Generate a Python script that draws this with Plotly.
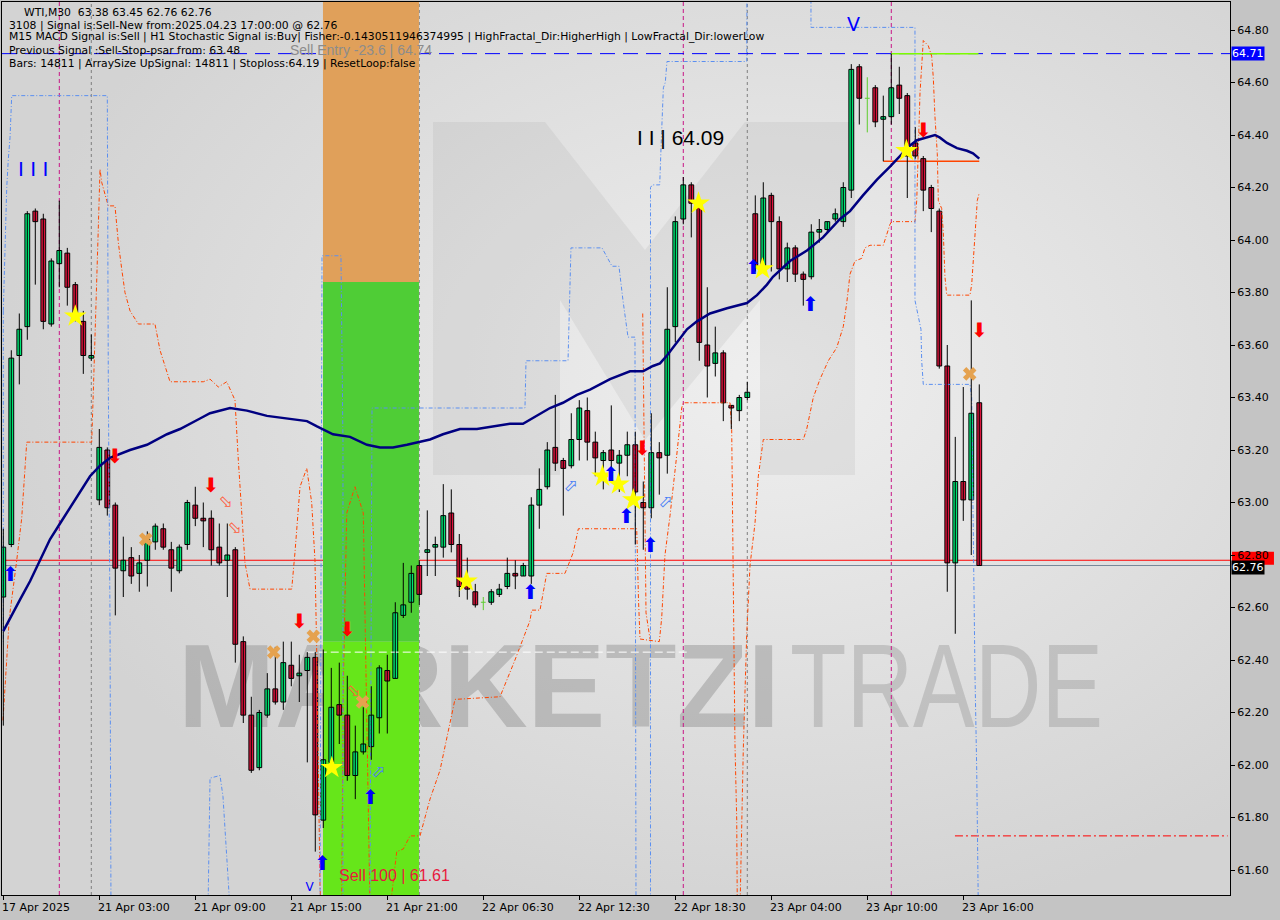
import base64
import plotly.graph_objects as go

# ---------------- data ----------------
tick_idx = [0, 12, 24, 36, 48, 60, 72, 84, 96, 108, 120]
tick_labels = ["17 Apr 2025", "21 Apr 03:00", "21 Apr 09:00", "21 Apr 15:00", "21 Apr 21:00",
               "22 Apr 06:30", "22 Apr 12:30", "22 Apr 18:30", "23 Apr 04:00", "23 Apr 10:00",
               "23 Apr 16:00"]
price_ticks = [61.60, 61.80, 62.00, 62.20, 62.40, 62.60, 62.80, 63.00, 63.20, 63.40,
               63.60, 63.80, 64.00, 64.20, 64.40, 64.60, 64.80]

opens = [62.64, 62.84, 63.56, 63.67, 64.11, 64.08, 63.68, 63.91, 63.95, 63.83,
         63.69, 63.55, 63.01, 63.20, 62.99, 62.74, 62.79, 62.73, 62.78, 62.85,
         62.90, 62.82, 62.74, 62.84, 62.99, 62.94, 62.94, 62.83, 62.78, 62.82,
         62.47, 62.19, 61.99, 62.19, 62.29, 62.24, 62.38, 62.34, 62.36, 62.41,
         61.79, 62.01, 62.23, 62.19, 61.96, 62.05, 62.07, 62.18, 62.36, 62.33,
         62.57, 62.62, 62.76, 62.81, 62.83, 62.83, 62.96, 62.84, 62.70, 62.66,
         62.62, 62.62, 62.65, 62.68, 62.73, 62.72, 62.72, 62.99, 63.06, 63.21,
         63.16, 63.14, 63.24, 63.35, 63.23, 63.16, 63.20, 63.15, 63.18, 63.22,
         63.00, 62.98, 63.19, 63.18, 63.67, 64.08, 64.21, 64.14, 63.60, 63.53,
         63.57, 63.37, 63.35, 63.40, 64.10, 63.90, 64.17, 64.07, 63.89, 63.97,
         63.87, 63.86, 64.03, 64.04, 64.08, 64.07, 64.19, 64.66, 64.54, 64.58,
         64.46, 64.47, 64.59, 64.55, 64.37, 64.31, 64.20, 64.11, 63.52, 62.77,
         63.08, 63.01, 63.38]
highs = [62.90, 63.58, 63.72, 64.11, 64.12, 64.10, 63.93, 64.15, 63.97, 63.84,
         63.73, 63.64, 63.28, 63.21, 63.00, 62.87, 62.83, 62.80, 62.89, 62.92,
         62.92, 62.85, 62.84, 63.01, 63.06, 63.00, 62.97, 62.92, 62.92, 62.83,
         62.49, 62.26, 62.21, 62.35, 62.45, 62.47, 62.47, 62.42, 62.43, 62.43,
         62.44, 62.37, 62.39, 62.34, 62.15, 62.22, 62.30, 62.38, 62.42, 62.62,
         62.77, 62.76, 62.78, 62.97, 62.87, 63.07, 63.05, 62.88, 62.79, 62.69,
         62.64, 62.67, 62.69, 62.79, 62.78, 62.77, 63.02, 63.13, 63.23, 63.41,
         63.17, 63.34, 63.39, 63.40, 63.27, 63.20, 63.37, 63.20, 63.27, 63.27,
         63.08, 63.34, 63.23, 63.82, 64.09, 64.24, 64.22, 64.15, 63.82, 63.67,
         63.58, 63.37, 63.41, 63.46, 64.17, 64.22, 64.18, 64.09, 63.99, 63.98,
         63.88, 64.06, 64.08, 64.07, 64.12, 64.22, 64.67, 64.67, 64.62, 64.59,
         64.55, 64.71, 64.66, 64.56, 64.43, 64.32, 64.21, 64.12, 63.60, 63.25,
         63.44, 63.77, 63.45]
lows = [62.15, 62.83, 63.45, 63.62, 63.83, 63.66, 63.67, 63.82, 63.75, 63.69,
        63.49, 63.54, 62.99, 62.95, 62.57, 62.64, 62.69, 62.66, 62.68, 62.82,
        62.82, 62.66, 62.73, 62.82, 62.91, 62.83, 62.76, 62.76, 62.64, 62.39,
        62.16, 61.97, 61.98, 62.18, 62.23, 62.21, 62.30, 62.24, 62.01, 61.67,
        61.76, 62.00, 62.08, 61.94, 61.87, 62.04, 62.02, 62.12, 62.12, 62.33,
        62.56, 62.58, 62.61, 62.72, 62.72, 62.79, 62.81, 62.64, 62.63, 62.60,
        62.59, 62.61, 62.64, 62.67, 62.67, 62.72, 62.69, 62.90, 63.05, 63.12,
        62.95, 63.13, 63.16, 63.16, 63.10, 63.05, 63.08, 63.04, 63.10, 62.84,
        62.82, 62.94, 63.03, 63.11, 63.61, 64.06, 64.01, 63.54, 63.40, 63.48,
        63.31, 63.28, 63.31, 63.39, 63.88, 63.88, 63.88, 63.85, 63.84, 63.84,
        63.75, 63.85, 63.99, 64.03, 64.07, 64.05, 64.16, 64.44, 64.41, 64.43,
        64.30, 64.44, 64.48, 64.16, 64.31, 64.11, 64.03, 63.51, 62.66, 62.50,
        62.93, 62.80, 62.76]
closes = [62.83, 63.55, 63.66, 64.10, 64.07, 63.69, 63.92, 63.96, 63.82, 63.71,
          63.56, 63.56, 63.21, 62.98, 62.75, 62.78, 62.72, 62.77, 62.86, 62.91,
          62.83, 62.75, 62.83, 63.00, 62.94, 62.93, 62.82, 62.77, 62.80, 62.46,
          62.19, 61.98, 62.20, 62.29, 62.24, 62.39, 62.33, 62.35, 62.41, 61.81,
          62.02, 62.22, 62.19, 61.96, 62.05, 62.08, 62.19, 62.37, 62.32, 62.58,
          62.61, 62.73, 62.65, 62.82, 62.84, 62.95, 62.84, 62.68, 62.67, 62.61,
          62.62, 62.66, 62.67, 62.73, 62.72, 62.76, 62.99, 63.05, 63.20, 63.15,
          63.13, 63.24, 63.36, 63.23, 63.17, 63.19, 63.16, 63.18, 63.22, 63.04,
          62.98, 63.19, 63.17, 63.66, 64.07, 64.21, 64.14, 63.61, 63.52, 63.57,
          63.38, 63.36, 63.40, 63.42, 63.90, 64.16, 64.07, 63.89, 63.97, 63.87,
          63.85, 64.03, 64.04, 64.07, 64.10, 64.20, 64.65, 64.54, 64.54, 64.45,
          64.47, 64.58, 64.54, 64.32, 64.32, 64.19, 64.12, 63.52, 62.77, 63.08,
          63.01, 63.34, 62.76]

# moving average (at these bar positions)
ma_idx = [0, 0.84, 2.09, 3.34, 4.59, 5.84, 7.09, 8.34, 9.59, 10.84, 12.09, 13.34, 15.84,
          17.96, 20.46, 22.09, 24.59, 25.84, 28.34, 30.46, 32.96, 35.46, 37.96, 39.21,
          41.21, 43.34, 45.46, 47.09, 48.71, 50.46, 52.09, 53.34, 54.96, 57.09, 59.21,
          61.21, 63.34, 64.96, 66.71, 68.34, 69.96, 71.71, 73.34, 75.84, 78.34, 79.96,
          81.21, 82.09, 82.96, 84.21, 85.46, 86.71, 88.34, 90.46, 92.96, 94.21, 95.46,
          96.21, 98.34, 100.46, 102.46, 104.59, 105.84, 107.46, 109.21, 110.84, 112.09,
          113.34, 114.21, 115.46, 116.46, 117.09, 117.96, 119.21, 120.46, 121.21, 122.0]
ma_val = [62.51, 62.56, 62.63, 62.70, 62.78, 62.86, 62.92, 62.98, 63.04, 63.10, 63.14,
          63.17, 63.20, 63.22, 63.26, 63.28, 63.32, 63.34, 63.36, 63.35, 63.33, 63.32,
          63.31, 63.29, 63.26, 63.25, 63.22, 63.21, 63.21, 63.22, 63.23, 63.24, 63.26,
          63.28, 63.28, 63.29, 63.30, 63.30, 63.33, 63.36, 63.38, 63.41, 63.43, 63.47,
          63.50, 63.50, 63.52, 63.53, 63.56, 63.61, 63.66, 63.69, 63.72, 63.74, 63.76,
          63.79, 63.83, 63.86, 63.92, 63.96, 64.01, 64.08, 64.11, 64.17, 64.23, 64.28,
          64.32, 64.36, 64.38, 64.39, 64.40, 64.39, 64.37, 64.35, 64.34, 64.33, 64.31]

# orange stop line pieces
o1_x = [-0.04, 0.75, 1.68, 2.30, 2.93, 11.05, 11.25, 11.68, 11.88, 12.09, 12.30, 12.93,
        13.13, 13.96, 14.38, 14.80, 15.21, 15.84, 16.88, 18.96, 19.59, 20.84, 25.0, 25.84,
        26.88, 27.93, 28.96, 29.38, 29.59, 30.21, 30.84, 36.05, 36.46, 37.09, 37.93, 38.55,
        38.96, 39.18, 39.59, 39.71]
o1_y = [62.17, 62.56, 62.78, 62.94, 63.23, 63.23, 63.42, 63.81, 64.05, 64.27, 64.22, 64.15,
        64.13, 64.13, 63.99, 63.89, 63.80, 63.73, 63.68, 63.68, 63.58, 63.46, 63.46, 63.47,
        63.44, 63.46, 63.39, 63.16, 63.07, 62.77, 62.67, 62.67, 62.81, 63.06, 63.13, 63.00,
        62.78, 62.43, 61.54, 61.45]
o2_x = [42.30, 42.50, 42.93, 43.96, 45.0, 45.21, 45.84]
o2_y = [61.45, 62.30, 62.96, 63.06, 62.96, 62.55, 61.45]
o3_x = [48.34, 49.18, 50.0, 50.84, 52.09, 53.34, 54.59, 56.46, 62.09, 63.96, 65.84, 66.05,
        67.09, 67.93, 70.21, 71.25, 71.88, 79.18, 79.40, 79.59, 82.0, 82.30, 82.71, 83.34,
        84.18, 84.80, 85.0, 90.84, 91.05, 91.25, 91.46, 91.68, 91.75]
o3_y = [61.45, 61.67, 61.68, 61.73, 61.73, 61.87, 61.98, 62.25, 62.26, 62.40, 62.55, 62.59,
        62.59, 62.73, 62.73, 62.81, 62.90, 62.90, 62.63, 62.48, 62.47, 62.56, 62.80, 62.95,
        63.18, 63.36, 63.38, 63.38, 63.28, 62.80, 62.08, 61.79, 61.45]
o4_x = [79.93, 80.09, 80.34, 80.84]
o4_y = [63.72, 63.20, 62.58, 62.48]
o5_x = [92.09, 92.30, 92.50, 92.93, 93.34, 93.96, 94.38, 95.0, 100.0, 100.43, 101.25, 102.09,
        103.13, 104.18, 105.0, 105.43, 105.84, 106.46, 107.30, 107.71, 108.34, 110.0, 110.21,
        110.84, 111.05, 113.96, 114.18, 114.38, 114.59, 115.0, 115.63, 116.05, 116.25, 116.46,
        116.75, 116.88, 117.30, 117.50, 117.71, 117.93, 120.84, 121.05, 121.46, 121.75, 122.0]
o5_y = [61.45, 61.76, 62.06, 62.50, 62.76, 62.92, 63.10, 63.24, 63.24, 63.28, 63.40, 63.47,
        63.54, 63.59, 63.67, 63.76, 63.87, 63.92, 63.93, 63.97, 63.98, 63.98, 64.00, 64.06,
        64.07, 64.07, 64.15, 64.35, 64.56, 64.76, 64.74, 64.70, 64.62, 64.47, 64.33, 64.15,
        64.12, 64.03, 63.86, 63.79, 63.79, 63.83, 64.03, 64.15, 64.18]

# blue channel pieces
b0_x = [0.0, 0.0]
b0_y = [63.73, 62.46]
b1_x = [0.0, 0.21, 0.43, 0.63, 0.84, 1.05, 13.0, 13.13, 13.34, 13.46]
b1_y = [63.73, 63.97, 64.20, 64.31, 64.39, 64.55, 64.55, 63.43, 62.55, 61.45]
b2_x = [25.59, 25.84, 27.09, 27.46, 28.34]
b2_y = [61.45, 61.95, 61.96, 61.88, 61.45]
b3_x = [39.59, 39.71, 39.84, 42.21, 42.46, 42.46]
b3_y = [61.45, 63.16, 63.94, 63.94, 63.23, 61.45]
b4_x = [45.84, 46.09, 65.21, 65.34, 70.59, 70.96, 74.84, 75.34, 76.09, 76.96, 77.21, 77.46,
        78.09, 78.96, 79.09]
b4_y = [61.45, 63.36, 63.36, 63.54, 63.54, 63.97, 63.97, 63.94, 63.90, 63.90, 63.82, 63.77,
        63.63, 63.63, 61.45]
b5_x = [80.9, 80.9, 81.13, 82.05, 82.29, 82.51, 82.75, 82.96, 92.93, 92.96]
b5_y = [61.45, 64.20, 64.21, 64.21, 64.41, 64.58, 64.60, 64.68, 64.68, 64.95]
b6_x = [100.96, 100.96, 113.96, 113.96, 114.71, 114.80, 115.0, 120.84, 121.05, 121.25,
        121.46, 121.68, 121.88]
b6_y = [64.95, 64.81, 64.81, 63.77, 63.66, 63.54, 63.45, 63.45, 63.40, 62.80, 62.35,
        61.98, 61.45]
white_x = [37.93, 85.59]
white_y = [62.43, 62.43]

# signal markers
star_idx = [9, 41.06, 57.9, 74.9, 76.9, 78.75, 86.9, 94.9, 112.9]
star_price = [63.71, 61.99, 62.70, 63.10, 63.07, 63.01, 64.14, 63.89, 64.34]
sell_arrow_idx = [13.96, 25.96, 37.0, 43.0, 79.9, 115.0, 122.0]
sell_arrow_price = [63.17, 63.06, 62.54, 62.51, 63.20, 64.41, 63.65]
buy_arrow_idx = [0.9, 39.9, 45.9, 65.9, 75.96, 77.9, 80.9, 93.75, 100.9]
buy_arrow_price = [62.72, 61.62, 61.87, 62.65, 63.10, 62.94, 62.83, 63.89, 63.75]
exit_sell_idx = [27.8, 28.9, 43.8]
exit_sell_price = [63.00, 62.90, 62.28]
exit_buy_idx = [46.9, 70.96, 82.8]
exit_buy_price = [61.97, 63.06, 63.00]
cross_idx = [17.8, 33.8, 38.75, 44.9, 120.8]
cross_price = [62.86, 62.43, 62.49, 62.24, 63.49]

# levels
ask_level = 62.78
bid_level = 62.76
entry_level = 64.71
stop_level = 61.73
fractal_high = 64.71
fractal_low = 64.30
zone_x0, zone_x1 = 39.96, 51.96
zone_mid, zone_split = 63.84, 62.47
day_breaks = [11, 52, 93]
signal_breaks = [7, 85, 111]

# axis frame
X_MIN, X_MAX = -0.1625, 153.34
Y_MIN, Y_MAX = 61.5048, 64.9067
PX_PER_PRICE = 262.5

UP = "#00e676"
DOWN = "#dc143c"

fig = go.Figure()

# background: gradient, logo and brand watermark (decor only)
svg = (
    "<svg xmlns='http://www.w3.org/2000/svg' width='1228' height='893' viewBox='0 0 1228 893'>"
    "<defs><radialGradient id='g' cx='0.62' cy='0.42' r='0.62'>"
    "<stop offset='0' stop-color='#efefef'/><stop offset='1' stop-color='#d3d3d3'/>"
    "</radialGradient></defs>"
    "<rect width='1228' height='893' fill='url(#g)'/>"
    "<path d='M431,473 L431,120 L543,120 L643,248 L743,120 L853,120 L853,473 L758,473 "
    "L758,298 L643,438 L558,298 L558,473 Z' fill='rgba(150,150,150,0.14)'/>"
    "<text x='176' y='725' font-family='Liberation Sans' font-weight='bold' font-size='119' "
    "textLength='602' lengthAdjust='spacingAndGlyphs' fill='rgba(150,150,150,0.50)'>MARKETZI</text>"
    "<text x='788' y='725' font-family='Liberation Sans' font-size='119' "
    "textLength='313' lengthAdjust='spacingAndGlyphs' fill='rgba(160,160,160,0.48)'>TRADE</text>"
    "</svg>"
)
src = "data:image/svg+xml;base64," + base64.b64encode(svg.encode()).decode()
fig.add_layout_image(source=src, xref="paper", yref="paper", x=0, y=1, sizex=1, sizey=1,
                     sizing="stretch", layer="below", xanchor="left", yanchor="top")

# trade zone
fig.add_shape(type="rect", xref="x", yref="y", layer="below", x0=zone_x0, x1=zone_x1,
              y0=zone_mid, y1=Y_MAX, fillcolor="#e0a05a", line=dict(width=0))
fig.add_shape(type="rect", xref="x", yref="y", layer="below", x0=zone_x0, x1=zone_x1,
              y0=zone_split, y1=zone_mid, fillcolor="#4fcd36", line=dict(width=0))
fig.add_shape(type="rect", xref="x", yref="y", layer="below", x0=zone_x0, x1=zone_x1,
              y0=Y_MIN, y1=zone_split, fillcolor="#66e61a", line=dict(width=0))

for d in day_breaks:
    fig.add_shape(type="line", xref="x", yref="paper", layer="below", x0=d, x1=d, y0=0, y1=1,
                  line=dict(color="#7f7f7f", width=1, dash="3px,3px"))
for d in signal_breaks:
    fig.add_shape(type="line", xref="x", yref="paper", layer="below", x0=d, x1=d, y0=0, y1=1,
                  line=dict(color="#c71585", width=1, dash="4px,3px"))

fig.add_shape(type="line", xref="paper", yref="y", layer="below", x0=0, x1=1, y0=ask_level,
              y1=ask_level, line=dict(color="#ff0000", width=1))
fig.add_shape(type="line", xref="paper", yref="y", layer="below", x0=0, x1=1, y0=bid_level,
              y1=bid_level, line=dict(color="#778899", width=1))
fig.add_shape(type="line", xref="paper", yref="y", layer="below", x0=0, x1=1, y0=entry_level,
              y1=entry_level, line=dict(color="#0000ff", width=1, dash="15px,8px"))
fig.add_shape(type="line", xref="x", yref="y", layer="below", x0=118.96, x1=X_MAX - 0.3,
              y0=stop_level, y1=stop_level, line=dict(color="#ff0000", width=1, dash="8px,3px,2px,3px"))
fig.add_shape(type="line", xref="x", yref="y", layer="below", x0=110.96, x1=121.9,
              y0=fractal_high, y1=fractal_high, line=dict(color="#7cfc00", width=1.5))
fig.add_shape(type="line", xref="x", yref="y", layer="below", x0=110.0, x1=122.0,
              y0=fractal_low, y1=fractal_low, line=dict(color="#ff4500", width=1.5))

# ask price tag (red strip, mostly hidden behind the bid tag as in the terminal)
fig.add_shape(type="rect", xref="paper", yref="y", layer="below", x0=1.0016, x1=1.0358,
              y0=ask_level - 4.5 / PX_PER_PRICE, y1=ask_level + 8.5 / PX_PER_PRICE,
              fillcolor="#ff0000", line=dict(width=0))

# indicator lines
for xs, ys in [(o1_x, o1_y), (o2_x, o2_y), (o3_x, o3_y), (o4_x, o4_y), (o5_x, o5_y)]:
    fig.add_trace(go.Scatter(x=xs, y=ys, mode="lines", hoverinfo="skip",
                             line=dict(color="#ff4500", width=1, dash="4px,2px,1px,2px")))
for xs, ys in [(b0_x, b0_y), (b1_x, b1_y), (b2_x, b2_y), (b3_x, b3_y), (b4_x, b4_y),
               (b5_x, b5_y), (b6_x, b6_y)]:
    fig.add_trace(go.Scatter(x=xs, y=ys, mode="lines", hoverinfo="skip",
                             line=dict(color="#5b8ff0", width=1, dash="4px,2px,1px,2px")))
fig.add_trace(go.Scatter(x=white_x, y=white_y, mode="lines", hoverinfo="skip",
                         line=dict(color="#ffffff", width=1, dash="8px,4px")))

# candles
n = len(opens)
wx, wy, dx, dy = [], [], [], []
bx, bbase, bh, bcol = [], [], [], []
for i in range(n):
    o, h, l, c = opens[i], highs[i], lows[i], closes[i]
    if o == c:
        dx += [i, i, None, i - 0.3, i + 0.3, None]
        dy += [l, h, None, o, o, None]
        continue
    wx += [i, i, None]
    wy += [l, h, None]
    bx.append(i)
    bbase.append(min(o, c))
    bh.append(abs(c - o))
    bcol.append(UP if c > o else DOWN)
fig.add_trace(go.Scatter(x=wx, y=wy, mode="lines", hoverinfo="skip",
                         line=dict(color="#000000", width=1)))
fig.add_trace(go.Scatter(x=dx, y=dy, mode="lines", hoverinfo="skip",
                         line=dict(color="#5ccc2c", width=1)))
fig.add_trace(go.Bar(x=bx, y=bh, base=bbase, width=0.6, hoverinfo="skip",
                     marker=dict(color=bcol, line=dict(color="#000000", width=1))))

# moving average
fig.add_trace(go.Scatter(x=ma_idx, y=ma_val, mode="lines", hoverinfo="skip",
                         line=dict(color="#000080", width=2.5)))

# signal markers
fig.add_trace(go.Scatter(x=cross_idx, y=cross_price, mode="markers", hoverinfo="skip",
                         marker=dict(symbol="x", size=12, color="#e5a24f", line=dict(width=0))))
fig.add_trace(go.Scatter(x=star_idx, y=star_price, mode="markers", hoverinfo="skip",
                         marker=dict(symbol="star", size=17, color="#ffff00", line=dict(width=0))))
fig.add_trace(go.Scatter(x=sell_arrow_idx, y=sell_arrow_price, mode="text", hoverinfo="skip",
                         text=["⬇"] * len(sell_arrow_idx), textposition="middle center",
                         textfont=dict(family="DejaVu Sans", size=20, color="#ff0000")))
fig.add_trace(go.Scatter(x=buy_arrow_idx, y=buy_arrow_price, mode="text", hoverinfo="skip",
                         text=["⬆"] * len(buy_arrow_idx), textposition="middle center",
                         textfont=dict(family="DejaVu Sans", size=20, color="#0000ff")))
fig.add_trace(go.Scatter(x=exit_sell_idx, y=exit_sell_price, mode="text", hoverinfo="skip",
                         text=["⬂"] * len(exit_sell_idx), textposition="middle center",
                         textfont=dict(family="DejaVu Sans", size=17, color="#ff5a3c")))
fig.add_trace(go.Scatter(x=exit_buy_idx, y=exit_buy_price, mode="text", hoverinfo="skip",
                         text=["⬀"] * len(exit_buy_idx), textposition="middle center",
                         textfont=dict(family="DejaVu Sans", size=17, color="#4a7ff5")))
# small label at the chart bottom
fig.add_trace(go.Scatter(x=[38.3], y=[61.53], mode="text", hoverinfo="skip", text=["V"],
                         textposition="middle center", cliponaxis=True,
                         textfont=dict(family="DejaVu Sans", size=12, color="#0000ff")))

# chart labels
fig.add_annotation(x=35.6, y=64.724, xref="x", yref="y", text="Sell Entry -23.6 | 64.74",
                   showarrow=False, xanchor="left", yanchor="middle",
                   font=dict(family="Liberation Sans", size=14, color="#8c8c8c"))
fig.add_annotation(x=41.7, y=61.58, xref="x", yref="y", text="Sell 100 | 61.61",
                   showarrow=False, xanchor="left", yanchor="middle",
                   font=dict(family="Liberation Sans", size=16, color="#e8183c"))
fig.add_annotation(x=1.6, y=64.27, xref="x", yref="y", text="I I I", showarrow=False,
                   xanchor="left", yanchor="middle",
                   font=dict(family="DejaVu Sans", size=20, color="#0000ff"))
fig.add_annotation(x=79.0, y=64.39, xref="x", yref="y", text="I I | 64.09", showarrow=False,
                   xanchor="left", yanchor="middle",
                   font=dict(family="Liberation Sans", size=21, color="#000000"))
fig.add_annotation(x=105.2, y=64.823, xref="x", yref="y", text="V", showarrow=False,
                   xanchor="left", yanchor="middle",
                   font=dict(family="DejaVu Sans", size=19, color="#0000ff"))

# header
header_lines = [
    "WTI,M30  63.38 63.45 62.76 62.76",
    "3108 | Signal is:Sell-New from:2025.04.23 17:00:00 @ 62.76",
    "M15 MACD Signal is:Sell | H1 Stochastic Signal is:Buy| Fisher:-0.1430511946374995 | "
    "HighFractal_Dir:HigherHigh | LowFractal_Dir:lowerLow",
    "Previous Signal :Sell-Stop-psar from: 63.48",
    "Bars: 14811 | ArraySize UpSignal: 14811 | Stoploss:64.19 | ResetLoop:false",
]
header_y = [0.9880, 0.9742, 0.9619, 0.9462, 0.9306]
header_x = [0.016, 0.0038, 0.0038, 0.0038, 0.0038]
for t, yy, xx in zip(header_lines, header_y, header_x):
    fig.add_annotation(x=xx, y=yy, xref="paper", yref="paper", text=t, showarrow=False,
                       xanchor="left", yanchor="middle",
                       font=dict(family="DejaVu Sans", size=10.8, color="#000000"))

# x labels (left aligned at tick)
for ti, tl in zip(tick_idx, tick_labels):
    fig.add_annotation(x=ti, y=0, xref="x", yref="paper", text=tl, showarrow=False,
                       xanchor="left", yanchor="top", xshift=-3, yshift=-4,
                       font=dict(family="DejaVu Sans", size=11, color="#000000"))

# price boxes
fig.add_annotation(x=1, y=entry_level, xref="paper", yref="y", text="64.71", showarrow=False,
                   xanchor="left", yanchor="middle", xshift=1, bgcolor="#0000ff", borderpad=0,
                   font=dict(family="DejaVu Sans", size=11, color="#ffffff"))
fig.add_annotation(x=1, y=bid_level, xref="paper", yref="y", text="62.76", showarrow=False,
                   xanchor="left", yanchor="middle", xshift=1, yshift=-2, bgcolor="#000000",
                   borderpad=0, font=dict(family="DejaVu Sans", size=11, color="#ffffff"))

fig.update_layout(
    width=1280, height=920, autosize=False,
    margin=dict(l=2, r=50, t=2, b=25),
    paper_bgcolor="#c4c4c4", plot_bgcolor="#dadada",
    showlegend=False, barmode="overlay", hovermode=False,
    xaxis=dict(range=[X_MIN, X_MAX], showgrid=False, zeroline=False, tickmode="array",
               tickvals=tick_idx, ticks="outside", ticklen=4, tickcolor="#000000",
               showticklabels=False, showline=True, linecolor="#000000", linewidth=1,
               mirror=True, fixedrange=True),
    yaxis=dict(range=[Y_MIN, Y_MAX], side="right", showgrid=False, zeroline=False,
               tickmode="array", tickvals=price_ticks,
               ticktext=[f"{p:.2f}" for p in price_ticks], ticks="outside", ticklen=4,
               tickcolor="#000000", tickfont=dict(family="DejaVu Sans", size=11, color="#000000"),
               showline=True, linecolor="#000000", linewidth=1, mirror=True, fixedrange=True),
)

fig.write_html("out.html", config={"displayModeBar": False},
               post_script="document.body.style.margin='0';document.body.style.overflow='hidden';")
